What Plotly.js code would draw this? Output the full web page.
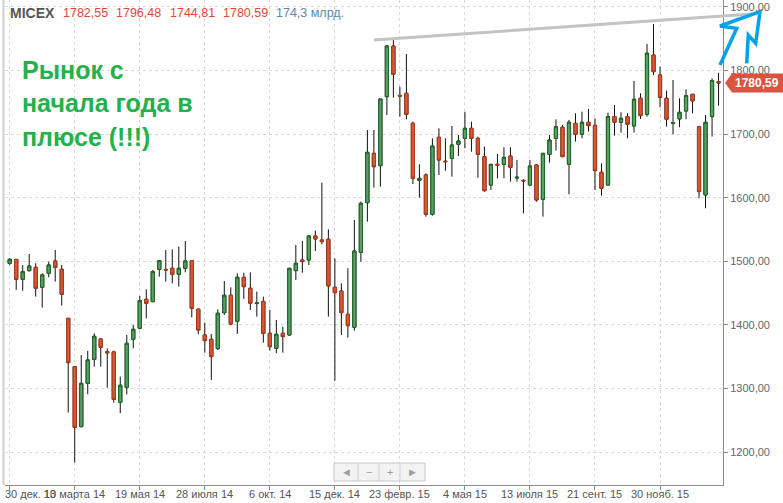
<!DOCTYPE html>
<html>
<head>
<meta charset="utf-8">
<script src="https://cdn.plot.ly/plotly-3.0.1.min.js"></script>
<style>
html,body{margin:0;padding:0;background:#fff;}
#chart{width:783px;height:503px;}
</style>
</head>
<body>
<div id="chart"></div>
<script>
// ---- DATA (weekly candles, MICEX) ----
const weeks = [
'2013-12-30','2014-01-06','2014-01-13','2014-01-20','2014-01-27','2014-02-03','2014-02-10','2014-02-17','2014-02-24','2014-03-03',
'2014-03-10','2014-03-17','2014-03-24','2014-03-31','2014-04-07','2014-04-14','2014-04-21','2014-04-28','2014-05-05','2014-05-12',
'2014-05-19','2014-05-26','2014-06-02','2014-06-09','2014-06-16','2014-06-23','2014-06-30','2014-07-07','2014-07-14','2014-07-21',
'2014-07-28','2014-08-04','2014-08-11','2014-08-18','2014-08-25','2014-09-01','2014-09-08','2014-09-15','2014-09-22','2014-09-29',
'2014-10-06','2014-10-13','2014-10-20','2014-10-27','2014-11-03','2014-11-10','2014-11-17','2014-11-24','2014-12-01','2014-12-08',
'2014-12-15','2014-12-22','2014-12-29','2015-01-05','2015-01-12','2015-01-19','2015-01-26','2015-02-02','2015-02-09','2015-02-16',
'2015-02-23','2015-03-02','2015-03-09','2015-03-16','2015-03-23','2015-03-30','2015-04-06','2015-04-13','2015-04-20','2015-04-27',
'2015-05-04','2015-05-11','2015-05-18','2015-05-25','2015-06-01','2015-06-08','2015-06-15','2015-06-22','2015-06-29','2015-07-06',
'2015-07-13','2015-07-20','2015-07-27','2015-08-03','2015-08-10','2015-08-17','2015-08-24','2015-08-31','2015-09-07','2015-09-14',
'2015-09-21','2015-09-28','2015-10-05','2015-10-12','2015-10-19','2015-10-26','2015-11-02','2015-11-09','2015-11-16','2015-11-23',
'2015-11-30','2015-12-07','2015-12-14','2015-12-21','2015-12-28','2016-01-04','2016-01-11','2016-01-18','2016-01-25','2016-02-01'
];
const openP = [
1496.8,1503.0,1471.6,1485.3,1490.5,1459.1,1481.1,1500.5,1487.4,1410.3,
1334.3,1239.9,1308.0,1345.8,1377.8,1358.0,1357.4,1278.2,1301.8,1377.3,
1394.6,1440.2,1436.5,1487.4,1487.2,1489.0,1479.5,1489.0,1501.0,1424.5,
1384.1,1377.3,1362.6,1419.2,1446.5,1405.6,1474.8,1457.5,1433.5,1437.0,
1386.7,1363.1,1386.7,1384.1,1485.3,1502.0,1502.0,1539.8,1533.5,1534.6,
1459.1,1453.3,1416.6,1396.2,1514.1,1592.2,1669.8,1650.4,1758.9,1838.6,
1761.0,1764.2,1717.0,1627.3,1635.7,1573.9,1695.0,1657.4,1662.0,1684.0,
1693.4,1709.1,1693.4,1664.6,1620.0,1652.5,1652.5,1665.6,1631.0,1627.3,
1620.0,1651.5,1597.5,1668.2,1693.4,1710.8,1652.6,1717.0,1699.8,1718.6,
1713.9,1640.0,1620.1,1727.6,1718.6,1727.6,1712.9,1756.4,1731.2,1824.5,
1793.1,1756.4,1717.1,1723.9,1736.5,1762.7,1711.8,1604.3,1727.6,1782.55
];
const highP = [
1504.7,1503.5,1494.0,1511.5,1496.8,1481.1,1499.4,1517.8,1494.2,1410.8,
1334.8,1352.6,1359.0,1386.7,1378.3,1363.0,1359.5,1318.5,1384.0,1399.8,
1445.4,1455.9,1486.3,1502.0,1517.8,1518.8,1523.0,1532.0,1501.5,1426.0,
1403.5,1385.7,1424.5,1469.0,1459.0,1481.1,1482.1,1482.6,1452.3,1444.4,
1423.4,1407.7,1397.2,1489.5,1525.7,1532.0,1541.4,1548.2,1623.7,1550.3,
1504.7,1465.4,1489.0,1565.0,1593.8,1706.5,1706.5,1755.8,1840.2,1848.0,
1774.7,1826.0,1719.6,1652.5,1638.3,1693.4,1709.1,1693.4,1712.8,1698.7,
1735.3,1719.6,1696.0,1680.3,1653.0,1668.8,1679.3,1679.3,1659.3,1628.9,
1659.3,1652.0,1670.3,1698.7,1723.3,1714.4,1722.3,1732.8,1735.4,1739.6,
1724.9,1654.2,1733.8,1745.9,1734.4,1732.8,1783.7,1764.2,1841.9,1873.3,
1806.2,1768.4,1785.2,1756.4,1770.5,1763.2,1712.3,1730.2,1787.9,1796.48
];
const lowP = [
1494.2,1455.0,1453.8,1483.7,1444.4,1427.1,1474.8,1468.0,1430.2,1262.0,
1183.3,1238.8,1290.7,1334.3,1334.3,1301.3,1277.6,1261.0,1290.7,1363.1,
1393.0,1410.3,1435.5,1475.8,1468.0,1465.3,1460.1,1482.6,1411.9,1385.0,
1356.3,1313.3,1360.5,1415.6,1399.3,1385.7,1440.7,1423.4,1413.0,1372.0,
1359.5,1355.3,1356.3,1382.5,1470.6,1482.1,1494.2,1516.2,1526.7,1413.0,
1312.0,1384.1,1379.9,1391.0,1499.4,1562.3,1615.8,1617.4,1730.1,1757.4,
1727.5,1723.3,1621.6,1600.1,1570.2,1571.8,1635.7,1642.5,1633.1,1665.6,
1677.7,1672.4,1631.5,1609.5,1612.1,1630.5,1630.5,1625.2,1625.2,1575.4,
1619.0,1593.8,1570.2,1655.1,1674.0,1663.6,1605.4,1688.2,1693.5,1704.0,
1612.2,1603.3,1619.0,1697.7,1702.4,1693.5,1702.4,1723.9,1727.6,1793.1,
1742.2,1711.8,1699.8,1710.8,1723.4,1732.8,1599.1,1583.4,1696.1,1744.81
];
const closeP = [
1503.1,1471.6,1483.7,1492.6,1457.5,1478.5,1494.2,1490.5,1448.1,1340.6,
1238.8,1308.0,1344.8,1382.0,1364.7,1356.0,1282.9,1305.0,1371.0,1393.0,
1438.1,1433.9,1483.7,1501.0,1486.3,1479.5,1489.0,1500.5,1426.0,1392.0,
1375.2,1350.0,1418.2,1446.5,1401.4,1474.8,1460.1,1434.0,1434.5,1386.7,
1365.7,1385.2,1381.5,1489.0,1496.8,1499.4,1539.8,1535.1,1530.9,1461.2,
1450.7,1419.2,1398.8,1516.2,1591.2,1671.4,1648.8,1755.3,1838.6,1794.0,
1760.0,1731.2,1630.5,1630.5,1573.9,1681.3,1659.3,1656.7,1682.9,1689.2,
1709.1,1693.4,1668.2,1611.1,1652.5,1651.0,1663.5,1647.8,1632.1,1626.3,
1649.9,1596.4,1669.8,1690.8,1711.8,1664.6,1718.6,1699.8,1718.6,1713.4,
1642.6,1614.8,1727.6,1718.6,1724.9,1715.5,1754.8,1729.1,1827.2,1798.3,
1758.0,1723.4,1718.1,1734.4,1760.6,1752.2,1609.6,1718.6,1784.2,1780.59
];
const tickDates = ['2013-12-30','2014-03-10','2014-05-19','2014-07-28','2014-10-06','2014-12-15',
                   '2015-02-23','2015-05-04','2015-07-13','2015-09-21','2015-11-30'];
const tickLabels = ['30 дек. 13','10 марта 14','19 мая 14','28 июля 14','6 окт. 14','15 дек. 14',
                    '23 февр. 15','4 мая 15','13 июля 15','21 сент. 15','30 нояб. 15'];
const tickerName = 'MICEX';
const volumeText = '174,3 млрд.';
const noteLines = ['Рынок с', 'начала года в', 'плюсе (!!!)'];
const navSymbols = ['◄', '−', '+', '►'];

// ---- geometry helpers (pixel -> paper) ----
const W = 783, H = 503;
const M = {l: 5, r: 60, t: 0, b: 18};
const PW = W - M.l - M.r, PH = H - M.t - M.b;
const px = X => (X - M.l) / PW;
const py = Y => 1 - (Y - M.t) / PH;
const fmt = v => v.toFixed(2).replace('.', ',');
const FONT = 'Liberation Sans, Arial, sans-serif';

const n = closeP.length;
const bodyHigh = openP.map((o, i) => Math.max(o, closeP[i]));
const bodyLow = openP.map((o, i) => Math.min(o, closeP[i]));

const wicks = {
  type: 'candlestick', x: weeks, open: openP, high: highP, low: lowP, close: closeP,
  increasing: {line: {color: '#111', width: 1}, fillcolor: '#111'},
  decreasing: {line: {color: '#111', width: 1}, fillcolor: '#111'},
  whiskerwidth: 0, hoverinfo: 'skip', showlegend: false
};
const bodies = {
  type: 'candlestick', x: weeks, open: openP, high: bodyHigh, low: bodyLow, close: closeP,
  increasing: {line: {color: '#1d6b22', width: 1}, fillcolor: '#5a9e68'},
  decreasing: {line: {color: '#b13d1c', width: 1}, fillcolor: '#da5634'},
  whiskerwidth: 0, hoverinfo: 'skip', showlegend: false
};

const annotations = [];
// header
const headerItems = [
  {text: '<b>' + tickerName + '</b>', x: 8, color: '#555', size: 14},
  {text: fmt(openP[n-1]), x: 61, color: '#e0483a', size: 12.5},
  {text: fmt(highP[n-1]), x: 114, color: '#e0483a', size: 12.5},
  {text: fmt(lowP[n-1]), x: 168, color: '#e0483a', size: 12.5},
  {text: fmt(closeP[n-1]), x: 221, color: '#e0483a', size: 12.5},
  {text: volumeText, x: 274, color: '#5f87ab', size: 12.5}
];
headerItems.forEach(h => annotations.push({
  xref: 'paper', yref: 'paper', x: px(h.x), y: py(13), xanchor: 'left', yanchor: 'middle',
  text: h.text, showarrow: false, font: {family: FONT, size: h.size, color: h.color}
}));
// green note
const noteY = [70, 103, 137];
noteLines.forEach((t, i) => annotations.push({
  xref: 'paper', yref: 'paper', x: px(20), y: py(noteY[i]), xanchor: 'left', yanchor: 'middle',
  text: '<b>' + t + '</b>', showarrow: false, font: {family: FONT, size: 25, color: '#22b14c'}
}));
// x tick labels (first one shifted right to fit, as in original)
tickLabels.forEach((t, i) => {
  const a = {yref: 'paper', y: py(494), yanchor: 'middle', text: t, showarrow: false,
    font: {family: FONT, size: 11, color: '#555'}};
  if (i === 0) { a.xref = 'paper'; a.x = px(3); a.xanchor = 'left'; }
  else { a.xref = 'x'; a.x = tickDates[i]; a.xanchor = 'center'; }
  annotations.push(a);
});
// last price label text
annotations.push({
  xref: 'paper', yref: 'y', x: px(757), y: closeP[n-1], xanchor: 'center', yanchor: 'middle',
  text: '<b>' + fmt(closeP[n-1]) + '</b>', showarrow: false, font: {family: FONT, size: 12, color: '#fff'}
});
// nav symbols
const navCenters = [346, 368.5, 389.5, 412.5];
navSymbols.forEach((s, i) => annotations.push({
  xref: 'paper', yref: 'paper', x: px(navCenters[i]), y: py(472), xanchor: 'center', yanchor: 'middle',
  text: s, showarrow: false, font: {family: FONT, size: 11, color: '#a0a0a0'}
}));

const shapes = [];
// left frame line
shapes.push({type: 'line', xref: 'paper', yref: 'paper', x0: px(3.5), x1: px(3.5), y0: py(0), y1: py(485),
  line: {color: '#cfcfcf', width: 2}, layer: 'above'});
// gray trend line (hand drawn)
shapes.push({type: 'line', xref: 'paper', yref: 'paper', x0: px(374), y0: py(40), x1: px(752), y1: py(14),
  line: {color: '#c3c3c3', width: 3}, layer: 'above'});
// blue hand-drawn arrow
const arrowPts = [[720,65],[736.7,28.3],[720,26],[760,11.7],[755.7,43.3],[748.3,35],[746.7,63.3]];
shapes.push({type: 'path', xref: 'paper', yref: 'paper',
  path: 'M' + arrowPts.map(p => px(p[0]) + ',' + py(p[1])).join(' L'),
  line: {color: '#00a2e8', width: 3.5}, layer: 'above'});
// last price label box
const half = 9.5 * (1911 - 1148.1) / PH;
const c = closeP[n-1];
shapes.push({type: 'path', xref: 'paper', yref: 'y',
  path: `M${px(725)},${c} L${px(732)},${c+half} L${px(783)},${c+half} L${px(783)},${c-half} L${px(732)},${c-half} Z`,
  fillcolor: '#db5440', line: {width: 0}, layer: 'above'});
// nav buttons box
shapes.push({type: 'rect', xref: 'paper', yref: 'paper', x0: px(334), x1: px(425), y0: py(481), y1: py(463),
  fillcolor: '#f3f3f3', line: {color: '#c6c6c6', width: 1}, layer: 'above'});
[358, 379, 400].forEach(X => shapes.push({type: 'line', xref: 'paper', yref: 'paper',
  x0: px(X), x1: px(X), y0: py(481), y1: py(463), line: {color: '#d0d0d0', width: 1}, layer: 'above'}));

const layout = {
  width: W, height: H, margin: M,
  paper_bgcolor: '#ffffff', plot_bgcolor: '#ffffff',
  separators: ', ',
  showlegend: false,
  hovermode: false,
  font: {family: FONT, size: 11, color: '#555'},
  xaxis: {
    type: 'date', range: ['2013-12-24 22:30', '2016-02-05 19:00'],
    rangeslider: {visible: false},
    tickmode: 'array', tickvals: tickDates, showticklabels: false,
    ticks: 'outside', ticklen: 4, tickcolor: '#888',
    showgrid: true, gridcolor: '#d9d9d9', griddash: 'dot', gridwidth: 1,
    showline: true, linecolor: '#8a8a8a', linewidth: 1,
    zeroline: false, fixedrange: true
  },
  yaxis: {
    side: 'right', range: [1148.1, 1911],
    tick0: 1200, dtick: 100, tickformat: '.2f',
    ticks: 'outside', ticklen: 4, tickcolor: '#888',
    showgrid: true, gridcolor: '#d9d9d9', griddash: 'dot', gridwidth: 1,
    showline: true, linecolor: '#8a8a8a', linewidth: 1,
    zeroline: false,
    tickfont: {family: FONT, size: 11, color: '#666'}, fixedrange: true
  },
  annotations: annotations,
  shapes: shapes
};

Plotly.newPlot('chart', [wicks, bodies], layout, {displayModeBar: false, staticPlot: true});
</script>
</body>
</html>
